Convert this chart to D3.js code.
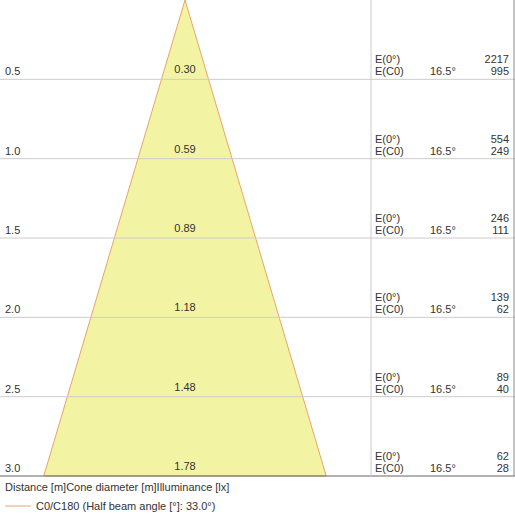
<!DOCTYPE html>
<html><head><meta charset="utf-8">
<script src="https://cdn.jsdelivr.net/npm/d3@7"></script>
<style>body{margin:0;background:#fff}text{font-family:"Liberation Sans",Arial,sans-serif;font-size:11px;fill:#333}</style>
</head><body>
<svg id="chart" width="515" height="515"></svg>
<script>
// ******* DATA *******
const distances = [0.5, 1.0, 1.5, 2.0, 2.5, 3.0];
const diameters = [0.30, 0.59, 0.89, 1.18, 1.48, 1.78];
const eCenter = [2217, 554, 246, 139, 89, 62];
const eC0 = [995, 249, 111, 62, 40, 28];
const halfAngle = "16.5°";

const svg = d3.select("#chart");
const apexX = 185;
const y = d3.scaleLinear().domain([0, 3]).range([0, 476]);
// horizontal metres use the same px/m as vertical
const x = d3.scaleLinear().domain([-1.5, 1.5]).range([apexX - 238, apexX + 238]);

// cone
const last = diameters[diameters.length - 1];
svg.append("path")
    .attr("d", d3.line()([[x(0), y(0)], [x(-last / 2), y(3)], [x(last / 2), y(3)]]) + "Z")
    .attr("fill", "#f3f4a3")
    .attr("stroke", "#e8a46a")
    .attr("stroke-width", 1);

// grid
distances.forEach((d, i) => {
    svg.append("line").attr("x1", 0).attr("x2", 515)
        .attr("y1", y(d)).attr("y2", y(d))
        .attr("stroke", i === distances.length - 1 ? "#666" : "#ccc");
});
svg.append("line").attr("x1", 371).attr("x2", 371).attr("y1", 0).attr("y2", y(3)).attr("stroke", "#ccc");
svg.append("line").attr("x1", 514).attr("x2", 514).attr("y1", 0).attr("y2", y(3)).attr("stroke", "#888");

// labels
distances.forEach((d, i) => {
    const yy = y(d);
    svg.append("text").attr("x", 5).attr("y", yy - 4).text(d.toFixed(1));
    svg.append("text").attr("x", apexX).attr("y", yy - 6).attr("text-anchor", "middle").text(diameters[i].toFixed(2));
    svg.append("text").attr("x", 375).attr("y", yy - 16).text("E(0°)");
    svg.append("text").attr("x", 375).attr("y", yy - 4).text("E(C0)");
    svg.append("text").attr("x", 430).attr("y", yy - 4).text(halfAngle);
    svg.append("text").attr("x", 509).attr("y", yy - 16).attr("text-anchor", "end").text(eCenter[i]);
    svg.append("text").attr("x", 509).attr("y", yy - 4).attr("text-anchor", "end").text(eC0[i]);
});

// footer
svg.append("text").attr("x", 5).attr("y", 491).text("Distance [m]Cone diameter [m]Illuminance [lx]");
svg.append("line").attr("x1", 5).attr("x2", 31).attr("y1", 506).attr("y2", 506).attr("stroke", "#e8a46a");
svg.append("text").attr("x", 36).attr("y", 510).text("C0/C180 (Half beam angle [°]: 33.0°)");
</script>
</body></html>
